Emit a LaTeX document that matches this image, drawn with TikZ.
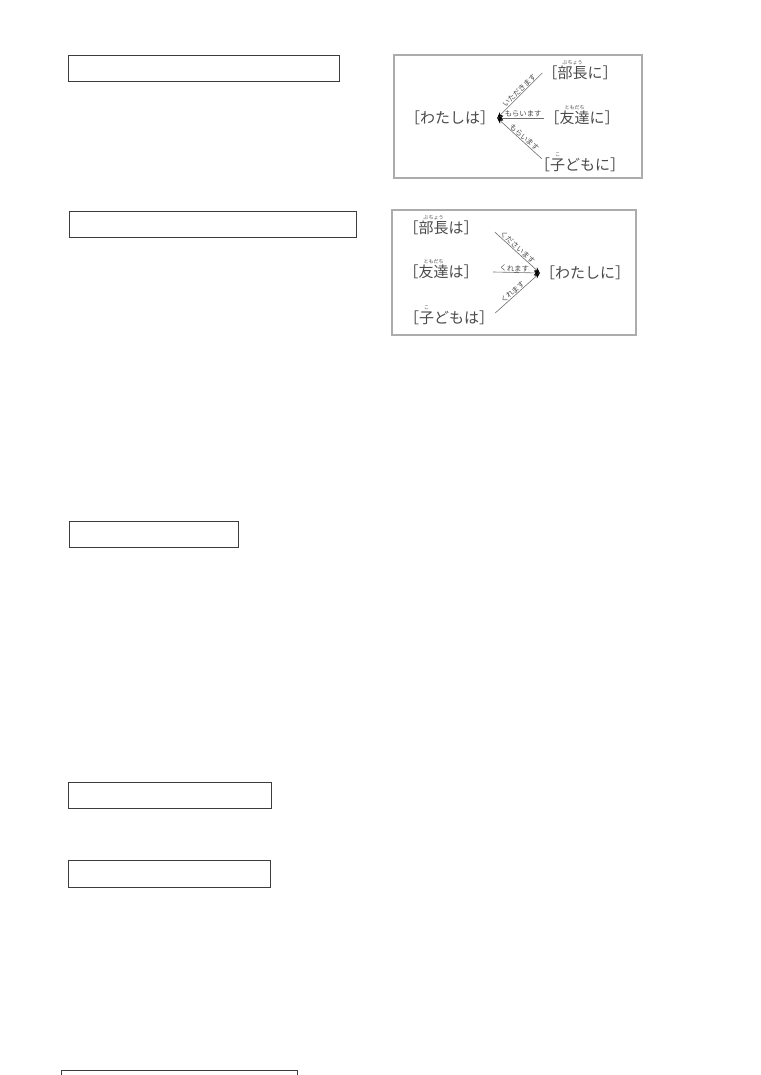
\documentclass[tikz,border=0pt]{standalone}
\usepackage{fontspec}
\newfontfamily\jp{Noto Sans CJK JP}
\usetikzlibrary{arrows.meta,calc}
\newsavebox\furibox
\newcommand{\furi}[2]{\sbox\furibox{#1}\makebox[\wd\furibox][c]{\smash{\raisebox{0.93em}{\fontsize{5}{5}\selectfont #2}}}\hspace{-\wd\furibox}\usebox\furibox}
\definecolor{ink}{HTML}{4A4A4A}
\definecolor{boxline}{HTML}{3C3C3C}
\begin{document}
\begin{tikzpicture}[x=1pt,y=-1pt,
  word/.style={font=\jp\fontsize{15}{17}\selectfont, text=ink, inner sep=0pt},
  lbl/.style={font=\jp\fontsize{7.3}{8}\selectfont, text=ink, inner sep=0.5pt, sloped, above, pos=0.45},
  conn/.style={draw=ink!80, line width=0.6pt, -{Stealth[length=6pt,width=4.5pt,color=black]}},
  panel/.style={draw=gray!65, line width=1.3pt, fill=white},
  blank/.style={draw=boxline, line width=0.9pt}
]
\useasboundingbox (0,0) rectangle (760,1075);
\fill[white] (0,0) rectangle (760,1075);

% empty boxes on the left
\draw[blank] (68.3,55) rectangle (339.3,81);
\draw[blank] (69.3,211.7) rectangle (356.7,237.3);
\draw[blank] (69,521.3) rectangle (238,547.3);
\draw[blank] (68.7,782.3) rectangle (271.3,808);
\draw[blank] (68.3,860.7) rectangle (270.7,887);
\draw[blank] (61,1080) -- (61,1070.7) -- (297.7,1070.7) -- (297.7,1080);

% panel 1
\draw[panel] (394,55) rectangle (642,178);
\node[word] (watashi1) at (450,118) {［わたしは］};
\node[word] (bucho1) at (580,73) {［\furi{部長}{ぶちょう}に］};
\node[word] (tomo1) at (582,118) {［\furi{友達}{ともだち}に］};
\node[word] (kodomo1) at (580,165) {［\furi{子}{こ}どもに］};
\coordinate (tip1) at ($(watashi1.east)+(2,0)$);
\draw[conn] (bucho1.west) -- node[lbl]{いただきます} (tip1);
\draw[conn] (tomo1.west) -- node[lbl]{もらいます} (tip1);
\draw[conn] ($(kodomo1.north west)+(7,1)$) -- node[lbl]{もらいます} (tip1);

% panel 2
\draw[panel] (392,210) rectangle (636,335);
\node[word] (bucho2) at (441,228) {［\furi{部長}{ぶちょう}は］};
\node[word] (tomo2) at (441,272) {［\furi{友達}{ともだち}は］};
\node[word] (kodomo2) at (449,318) {［\furi{子}{こ}どもは］};
\node[word] (watashi2) at (585,273) {［わたしに］};
\coordinate (tip2) at (watashi2.west);
\coordinate (s2a) at ($(bucho2.east)+(16,4)$);
\coordinate (s2b) at ($(tomo2.east)+(14.5,0)$);
\coordinate (s2c) at ($(kodomo2.east)+(1,-5)$);
\draw[conn] (s2a) -- node[lbl]{くださいます} (tip2);
\draw[conn] (s2b) -- node[lbl]{くれます} (tip2);
\draw[conn] (s2c) -- node[lbl]{くれます} (tip2);
\end{tikzpicture}
\end{document}
